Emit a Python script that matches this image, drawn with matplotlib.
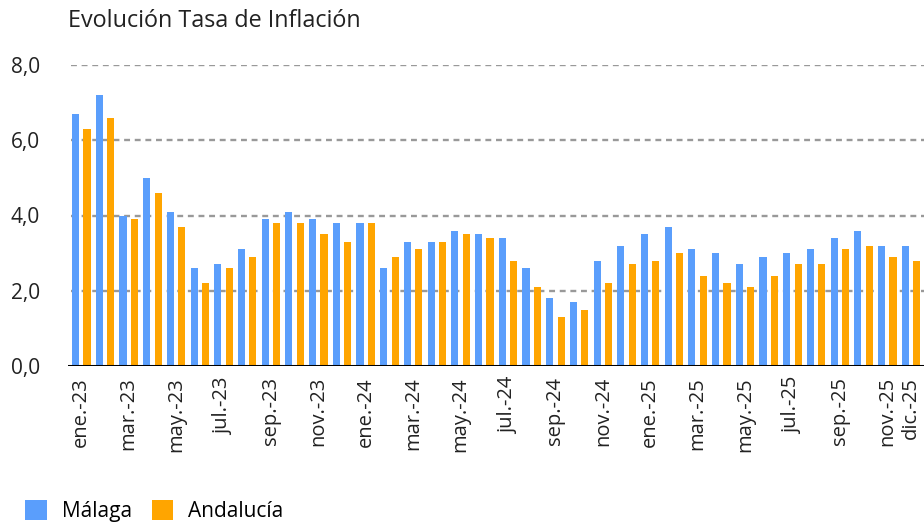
import numpy as np
import matplotlib.pyplot as plt

plt.rcParams['font.family'] = ['Open Sans', 'DejaVu Sans']

# monthly inflation rate (%), ene.-23 .. dic.-25
meses = ['ene.-23', 'feb.-23', 'mar.-23', 'abr.-23', 'may.-23', 'jun.-23',
         'jul.-23', 'ago.-23', 'sep.-23', 'oct.-23', 'nov.-23', 'dic.-23',
         'ene.-24', 'feb.-24', 'mar.-24', 'abr.-24', 'may.-24', 'jun.-24',
         'jul.-24', 'ago.-24', 'sep.-24', 'oct.-24', 'nov.-24', 'dic.-24',
         'ene.-25', 'feb.-25', 'mar.-25', 'abr.-25', 'may.-25', 'jun.-25',
         'jul.-25', 'ago.-25', 'sep.-25', 'oct.-25', 'nov.-25', 'dic.-25']
malaga = [6.7, 7.2, 4.0, 5.0, 4.1, 2.6, 2.7, 3.1, 3.9, 4.1, 3.9, 3.8,
          3.8, 2.6, 3.3, 3.3, 3.6, 3.5, 3.4, 2.6, 1.8, 1.7, 2.8, 3.2,
          3.5, 3.7, 3.1, 3.0, 2.7, 2.9, 3.0, 3.1, 3.4, 3.6, 3.2, 3.2]
andalucia = [6.3, 6.6, 3.9, 4.6, 3.7, 2.2, 2.6, 2.9, 3.8, 3.8, 3.5, 3.3,
             3.8, 2.9, 3.1, 3.3, 3.5, 3.4, 2.8, 2.1, 1.3, 1.5, 2.2, 2.7,
             2.8, 3.0, 2.4, 2.2, 2.1, 2.4, 2.7, 2.7, 3.1, 3.2, 2.9, 2.8]
tick_idx = list(range(0, 36, 2)) + [35]

c_mal = '#5A9EFC'
c_and = '#FFA500'

fig = plt.figure(figsize=(9.24, 5.25), dpi=100)
ax = fig.add_axes([68 / 924, 1 - 366 / 525, 1 - 68 / 924, 301 / 525])

x = np.arange(len(meses))
w = 0.3
ax.bar(x - 0.24, malaga, w, color=c_mal, label='Málaga', zorder=2)
ax.bar(x + 0.24, andalucia, w, color=c_and, label='Andalucía', zorder=2)

ax.set_ylim(0, 8)
ax.set_xlim(-0.56, 35.55)
ax.set_yticks([0, 2, 4, 6, 8])
ax.set_yticklabels(['0,0', '2,0', '4,0', '6,0', '8,0'], fontsize=15, color='#222222')
ax.set_xticks(tick_idx)
ax.set_xticklabels([meses[i] for i in tick_idx], rotation=90, fontsize=14.5, color='#222222')
ax.tick_params(axis='y', length=0, pad=20)
ax.tick_params(axis='x', length=0, pad=8)

for y in [2, 4, 6, 8]:
    ax.axhline(y, xmin=0.003, color='#999999', lw=1.7, dashes=[2.5, 2.0], zorder=1)
ax.axhline(0, color='black', lw=2.2, zorder=3)

for s in ax.spines.values():
    s.set_visible(False)

fig.text(68 / 924, 1 - 21 / 525, 'Evolución Tasa de Inflación', fontsize=16.8,
         va='center', ha='left', color='#222222')

fig.legend(loc='lower left', bbox_to_anchor=(0.007, -0.03), ncol=2, frameon=False,
           fontsize=15, handlelength=1.05, handleheight=1.05, columnspacing=0.95,
           handletextpad=0.7)

plt.savefig('out.png', dpi=100)
